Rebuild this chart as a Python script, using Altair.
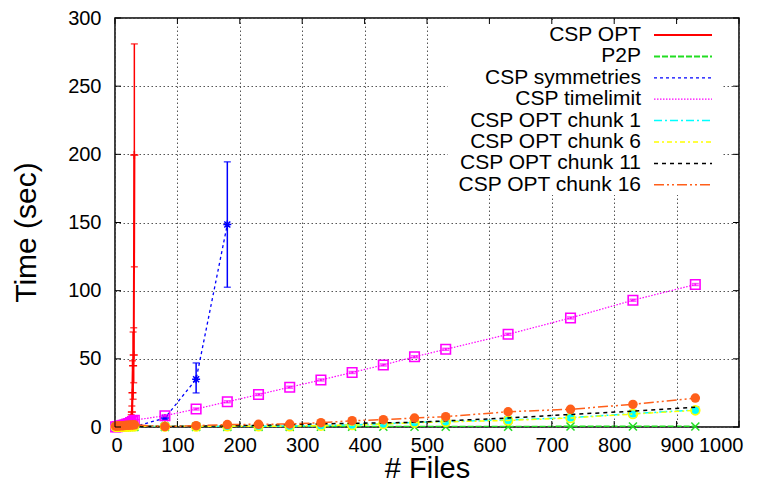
import altair as alt
import pandas as pd

# ---------------- data ----------------
names = ["CSP OPT", "P2P", "CSP symmetries", "CSP timelimit",
         "CSP OPT chunk 1", "CSP OPT chunk 6", "CSP OPT chunk 11", "CSP OPT chunk 16"]

dense_x = [1, 4, 7, 10, 13, 16, 19, 22, 25, 28, 31]
sparse_x = [80, 130, 180, 230, 280, 330, 380, 430, 480, 530, 630, 730, 830, 930]

opt_x = [1, 4, 7, 10, 13, 16, 19, 22, 24, 26, 27, 28, 29, 30, 31]
opt_y = [0.0, 0.0, 0.0, 0.1, 0.1, 0.2, 0.4, 0.8, 3.0, 7.0, 11.0, 25.2, 45.0, 52.8, 199.5]
opt_lo = [0.0, 0.0, 0.0, 0.0, 0.0, 0.1, 0.2, 0.4, 2.0, 5.0, 6.6, 1.8, 20.3, 32.5, 117.5]
opt_hi = [0.0, 0.0, 0.1, 0.2, 0.2, 0.3, 0.6, 1.2, 4.0, 9.0, 15.4, 48.6, 69.6, 72.8, 281.0]

p2p_y = [0.0] * 11 + [0.1, 0.1, 0.1, 0.1, 0.1, 0.2, 0.2, 0.2, 0.2, 0.2, 0.2, 0.3, 0.3, 0.3]

sym_x = dense_x + [80, 130, 180]
sym_y = [0, 0, 0, 0, 0, 0, 0, 0, 0.1, 0.1, 0.2, 6.6, 35.0, 148.6]
sym_lo = [0, 0, 0, 0, 0, 0, 0, 0, 0.1, 0.1, 0.2, 5.5, 25.0, 102.5]
sym_hi = [0, 0, 0, 0, 0, 0, 0, 0, 0.1, 0.1, 0.2, 7.7, 47.0, 194.5]

tl_y = [0.1, 0.3, 0.6, 0.9, 1.3, 1.7, 2.1, 2.6, 3.2, 4.0, 5.0,
        8.3, 13.2, 18.5, 23.8, 29.2, 34.5, 40.0, 45.5, 51.5, 57.0, 68.0, 80.0, 93.0, 104.5]

c1_y = [0.1, 0.1, 0.2, 0.2, 0.3, 0.3, 0.4, 0.4, 0.5, 0.5, 0.6,
        0.3, 0.4, 0.5, 0.6, 0.7, 1.1, 1.6, 2.3, 3.4, 4.0, 5.2, 6.9, 9.8, 12.5]
c6_y = [0.1, 0.1, 0.2, 0.2, 0.3, 0.3, 0.4, 0.4, 0.5, 0.5, 0.6,
        0.3, 0.4, 0.5, 0.6, 0.6, 1.0, 1.5, 2.2, 3.2, 3.8, 4.8, 6.6, 9.5, 12.2]
c11_y = [0.2, 0.2, 0.3, 0.3, 0.4, 0.4, 0.5, 0.5, 0.6, 0.6, 0.7,
         0.4, 0.6, 0.8, 1.2, 1.8, 2.3, 2.7, 3.0, 3.5, 4.5, 6.6, 9.2, 11.6, 14.5]
c16_y = [0.6, 0.7, 0.8, 0.9, 1.0, 1.1, 1.2, 1.3, 1.4, 1.5, 1.6,
         0.3, 1.0, 1.8, 2.0, 2.2, 3.2, 4.6, 5.4, 6.6, 7.6, 11.2, 13.0, 16.6, 21.2]

x_ticks = [0, 100, 200, 300, 400, 500, 600, 700, 800, 900, 1000]
y_ticks = [0, 50, 100, 150, 200, 250, 300]

# ---------------- styles ----------------
W, H = 624, 409
FONT = "Liberation Sans"

PLUS = "M-1,0L1,0M0,-1L0,1"
CROSS = "M-1,-1L1,1M-1,1L1,-1"
STAR = "M-1,0L1,0M0,-1L0,1M-0.75,-0.75L0.75,0.75M-0.75,0.75L0.75,-0.75"

styles = {
    "CSP OPT": dict(color="#ff0000", dash=[1, 0], width=2.0, shape=PLUS, filled=False, size=64, sw=1.5),
    "P2P": dict(color="#22dd22", dash=[6, 2], width=2.0, shape=CROSS, filled=False, size=64, sw=1.5),
    "CSP symmetries": dict(color="#0000ff", dash=[3, 3], width=1.3, shape=STAR, filled=False, size=64, sw=1.5),
    "CSP timelimit": dict(color="#ff00ff", dash=[1.5, 1.5], width=1.2, shape="square", filled=False, size=90, sw=1.6),
    "CSP OPT chunk 1": dict(color="#00ffff", dash=[8, 3, 2, 3], width=1.5, shape="square", filled=True, size=64, sw=1),
    "CSP OPT chunk 6": dict(color="#ffff00", dash=[5, 3, 2, 3], width=1.5, shape="circle", filled=False, size=80, sw=1.6),
    "CSP OPT chunk 11": dict(color="#000000", dash=[4, 4], width=1.5, shape=None, filled=False, size=0, sw=1),
    "CSP OPT chunk 16": dict(color="#ff5f1a", dash=[10, 3, 2, 3, 2, 3], width=1.5, shape="circle", filled=True, size=90, sw=1),
}

series_data = {
    "CSP OPT": (opt_x, opt_y, opt_lo, opt_hi),
    "P2P": (dense_x + sparse_x, p2p_y, None, None),
    "CSP symmetries": (sym_x, sym_y, sym_lo, sym_hi),
    "CSP timelimit": (dense_x + sparse_x, tl_y,
                      [v - 0.7 for v in tl_y], [v + 0.7 for v in tl_y]),
    "CSP OPT chunk 1": (dense_x + sparse_x, c1_y, None, None),
    "CSP OPT chunk 6": (dense_x + sparse_x, c6_y, None, None),
    "CSP OPT chunk 11": (dense_x + sparse_x, c11_y, None, None),
    "CSP OPT chunk 16": (dense_x + sparse_x, c16_y, None, None),
}

xs = alt.Scale(domain=[0, 1000], nice=False, zero=False)
ys = alt.Scale(domain=[0, 300], nice=False)

ax_x = alt.Axis(values=x_ticks, format="d", grid=True, gridColor="#555555", gridDash=[1.5, 2.5], gridWidth=1,
                ticks=False, domain=False, labelFont=FONT, labelFontSize=20, labelColor="black",
                labelPadding=8, labelFlush=True, labelFlushOffset=4, title="# Files", titleFont=FONT,
                titleFontSize=29, titleFontWeight="normal", titleColor="black", titleX=W / 2, titleY=50,
                titleBaseline="alphabetic", titleAlign="center")
ax_y = alt.Axis(values=y_ticks, format="d", grid=True, gridColor="#555555", gridDash=[1.5, 2.5], gridWidth=1,
                ticks=False, domain=False, labelFont=FONT, labelFontSize=20, labelColor="black",
                labelPadding=14, labelFlush=False, title="Time (sec)", titleFont=FONT, titleFontSize=30,
                titleFontWeight="normal", titleColor="black", titleX=-80, titleY=214,
                titleAngle=-90, titleBaseline="alphabetic", titleAlign="center")


def X(field):
    return alt.X(field, type="quantitative", scale=xs, axis=ax_x)


def Y(field):
    return alt.Y(field, type="quantitative", scale=ys, axis=ax_y)


layers = []
for nm in names:
    st = styles[nm]
    xv, yv, lo, hi = series_data[nm]
    df = pd.DataFrame({"x": xv, "y": yv})
    if lo is not None:
        df["lo"] = lo
        df["hi"] = hi
    base = alt.Chart(df)
    layers.append(base.mark_line(color=st["color"], strokeDash=st["dash"], strokeWidth=st["width"],
                                 clip=True).encode(x=X("x"), y=Y("y")))
    if lo is not None:
        layers.append(base.mark_rule(color=st["color"], strokeWidth=1.5).encode(
            x=X("x"), y=Y("lo"), y2="hi"))
        layers.append(base.mark_tick(color=st["color"], orient="horizontal", size=7, thickness=1.5).encode(
            x=X("x"), y=Y("lo")))
        layers.append(base.mark_tick(color=st["color"], orient="horizontal", size=7, thickness=1.5).encode(
            x=X("x"), y=Y("hi")))
    if st["shape"] is not None:
        if st["filled"]:
            pm = base.mark_point(shape=st["shape"], filled=True, fill=st["color"], color=st["color"],
                                 size=st["size"], opacity=1, strokeWidth=st["sw"])
        else:
            pm = base.mark_point(shape=st["shape"], filled=False, stroke=st["color"],
                                 size=st["size"], opacity=1, strokeWidth=st["sw"])
        layers.append(pm.encode(x=X("x"), y=Y("y")))

# opaque key box
key_box = alt.Chart(pd.DataFrame({"k": [0]})).mark_rect(fill="white").encode(
    x=alt.value(333), x2=alt.value(607), y=alt.value(2), y2=alt.value(177))
layers.append(key_box)

for i, nm in enumerate(names):
    st = styles[nm]
    yy = 17 + 21.4 * i
    d = pd.DataFrame({"name": [nm]})
    layers.append(alt.Chart(d).mark_text(align="right", baseline="middle", font=FONT, fontSize=21,
                                         color="black").encode(
        text="name:N", x=alt.value(526), y=alt.value(yy)))
    layers.append(alt.Chart(d).mark_rule(color=st["color"], strokeDash=st["dash"],
                                         strokeWidth=st["width"]).encode(
        x=alt.value(539), x2=alt.value(597), y=alt.value(yy)))

# inward tick marks on all four sides
xt = alt.Chart(pd.DataFrame({"t": x_ticks}))
yt = alt.Chart(pd.DataFrame({"t": y_ticks}))
layers.append(xt.mark_rule(color="black", strokeWidth=1).encode(x=X("t"), y=alt.value(H), y2=alt.value(H - 6)))
layers.append(xt.mark_rule(color="black", strokeWidth=1).encode(x=X("t"), y=alt.value(0), y2=alt.value(6)))
layers.append(yt.mark_rule(color="black", strokeWidth=1).encode(y=Y("t"), x=alt.value(0), x2=alt.value(6)))
layers.append(yt.mark_rule(color="black", strokeWidth=1).encode(y=Y("t"), x=alt.value(W), x2=alt.value(W - 6)))

chart = alt.layer(*layers).properties(
    width=W, height=H,
    autosize=alt.AutoSizeParams(type="none"),
    padding={"left": 107, "top": 10, "right": 20, "bottom": 54},
    background="white",
).configure_view(stroke="black", strokeWidth=1.5)

chart.save("out.html", embed_options={"renderer": "svg", "actions": False})
